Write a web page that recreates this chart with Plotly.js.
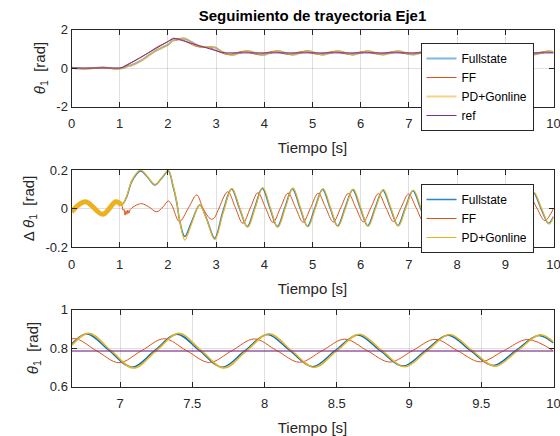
<!DOCTYPE html>
<html>
<head>
<meta charset="utf-8">
<script src="https://cdn.plot.ly/plotly-3.0.1.min.js"></script>
<style>html,body{margin:0;padding:0;background:#fff;}#chart{width:560px;height:436px;}</style>
</head>
<body>
<div id="chart"></div>
<script>
// ---------------- DATA ----------------
// Reference trajectory theta_1 [rad]
const tRef = [0, 1.0, 1.1, 2.05, 2.12, 2.2, 3.1, 3.2, 10];
const vRef = [0, 0, 0.07, 1.47, 1.55, 1.5, 0.82, 0.785, 0.785];

// Fullstate theta_1
const tFs = [0,0.29,0.65,0.92,1.04,1.145,1.25,1.43,1.57,1.73,1.87,2.01,2.1,2.18,2.25,2.35,2.49,2.66,2.8,2.97,3.14,3.32,3.48,3.645,3.80,3.958,4.114,4.27,4.426,4.583,4.739,4.895,5.051,5.208,5.364,5.52,5.676,5.833,5.989,6.145,6.301,6.458,6.614,6.77,6.926,7.083,7.239,7.395,7.551,7.708,7.864,8.02,8.176,8.333,8.489,8.645,8.801,8.958,9.114,9.27,9.426,9.583,9.739,9.895,10];
const vFs = [0.017,-0.035,0.03,-0.035,-0.018,0.08,0.155,0.365,0.605,0.88,1.05,1.225,1.43,1.46,1.51,1.52,1.34,1.12,1.09,1.07,0.81,0.685,0.786,0.878,0.786,0.685,0.786,0.878,0.786,0.688,0.786,0.877,0.786,0.690,0.786,0.876,0.786,0.693,0.786,0.875,0.786,0.697,0.786,0.873,0.786,0.700,0.786,0.872,0.786,0.700,0.786,0.870,0.786,0.703,0.786,0.868,0.786,0.706,0.786,0.866,0.786,0.709,0.786,0.865,0.826];

// FF theta_1
const tFf = [0,0.29,0.65,0.92,1.04,1.1,1.35,1.46,1.6,1.77,1.9,2.01,2.08,2.24,2.42,2.6,2.73,2.89,3.04,3.243,3.399,3.555,3.711,3.868,4.024,4.18,4.336,4.493,4.649,4.805,4.961,5.118,5.274,5.43,5.586,5.743,5.899,6.055,6.211,6.368,6.524,6.68,6.836,6.993,7.149,7.305,7.461,7.618,7.774,7.93,8.086,8.243,8.399,8.555,8.711,8.868,9.024,9.18,9.336,9.493,9.656,9.82,10];
const vFf = [0.017,-0.035,0.03,-0.035,0.0,0.104,0.425,0.58,0.80,1.08,1.245,1.38,1.50,1.52,1.32,1.115,1.09,1.03,0.865,0.698,0.78,0.862,0.783,0.705,0.783,0.86,0.784,0.71,0.784,0.857,0.785,0.714,0.785,0.855,0.785,0.718,0.785,0.852,0.785,0.721,0.785,0.849,0.786,0.724,0.786,0.848,0.786,0.725,0.786,0.847,0.786,0.726,0.786,0.846,0.786,0.727,0.786,0.845,0.786,0.728,0.786,0.844,0.785];

// PD+Gonline theta_1
const tPd = [0,0.29,0.65,0.92,1.04,1.145,1.25,1.43,1.57,1.73,1.87,2.01,2.1,2.18,2.25,2.35,2.49,2.66,2.8,2.97,3.15,3.33,3.49,3.657,3.812,3.97,4.126,4.282,4.438,4.595,4.751,4.907,5.063,5.22,5.376,5.532,5.688,5.845,6.001,6.157,6.313,6.47,6.626,6.782,6.938,7.095,7.251,7.407,7.563,7.72,7.876,8.032,8.188,8.345,8.501,8.657,8.813,8.97,9.126,9.282,9.438,9.595,9.751,9.907,10];
const vPd = [0.017,-0.035,0.03,-0.035,-0.018,0.07,0.14,0.35,0.59,0.865,1.04,1.215,1.42,1.46,1.52,1.54,1.35,1.12,1.09,1.08,0.81,0.681,0.786,0.882,0.786,0.681,0.786,0.882,0.786,0.684,0.786,0.881,0.786,0.686,0.786,0.880,0.786,0.689,0.786,0.879,0.786,0.693,0.786,0.877,0.786,0.696,0.786,0.876,0.786,0.696,0.786,0.874,0.786,0.699,0.786,0.872,0.786,0.702,0.786,0.870,0.786,0.705,0.786,0.869,0.832];

// Tracking error  Δθ_1 [rad]
const dFs = [-0.017,0.035,-0.03,0.035,0.018,0.06,0.14,0.195,0.165,0.122,0.157,0.195,0.122,0.035,-0.07,-0.146,-0.07,0.018,-0.051,-0.155,-0.017,0.101,0.004,-0.094,0.004,0.105,0.004,-0.094,0.004,0.103,0.004,-0.092,0.004,0.100,0.004,-0.090,0.004,0.098,0.004,-0.089,0.004,0.095,0.004,-0.088,0.004,0.092,0.003,-0.087,0.003,0.090,0.003,-0.085,0.003,0.087,0.002,-0.083,0.002,0.084,0.002,-0.080,0.001,0.080,0.001,-0.077,-0.042];
const dPd = [-0.017,0.035,-0.03,0.035,0.018,0.065,0.145,0.2,0.168,0.125,0.16,0.198,0.13,0.04,-0.07,-0.164,-0.08,0.018,-0.055,-0.162,-0.02,0.105,0.004,-0.098,0.004,0.109,0.004,-0.098,0.004,0.107,0.004,-0.096,0.004,0.104,0.004,-0.094,0.004,0.102,0.004,-0.093,0.004,0.099,0.004,-0.092,0.004,0.096,0.003,-0.091,0.003,0.094,0.003,-0.089,0.003,0.091,0.002,-0.087,0.002,0.088,0.002,-0.084,0.001,0.084,0.001,-0.081,-0.045];
const tDff = [0,0.29,0.65,0.92,1.04,1.07,1.09,1.11,1.13,1.15,1.17,1.19,1.22,1.35,1.46,1.6,1.77,1.9,2.01,2.08,2.24,2.42,2.6,2.73,2.89,2.96,3.04,3.243,3.399,3.555,3.711,3.868,4.024,4.18,4.336,4.493,4.649,4.805,4.961,5.118,5.274,5.43,5.586,5.743,5.899,6.055,6.211,6.368,6.524,6.68,6.836,6.993,7.149,7.305,7.461,7.618,7.774,7.93,8.086,8.243,8.399,8.555,8.711,8.868,9.024,9.18,9.336,9.493,9.656,9.82,10];
const dFf = [-0.017,0.035,-0.03,0.035,0.018,-0.01,-0.005,-0.035,-0.012,-0.03,-0.008,-0.025,-0.005,0.018,0.025,0.009,-0.017,0.009,0.039,0.018,-0.068,0.0,0.07,0.0,-0.055,-0.05,-0.01,0.087,0.005,-0.077,0.003,0.082,0.004,-0.072,0.004,0.08,0.004,-0.071,0.004,0.079,0.004,-0.07,0.004,0.078,0.004,-0.069,0.004,0.077,0.004,-0.068,0.004,0.075,0.004,-0.067,0.003,0.074,0.003,-0.066,0.003,0.072,0.003,-0.065,0.003,0.07,0.003,-0.064,0.002,0.068,0.002,-0.063,0.0];

// Tick labels
const xTickVals = [0,1,2,3,4,5,6,7,8,9,10];
const xTickText = ['0','1','2','3','4','5','6','7','8','9','10'];
const xZoomVals = [7,7.5,8,8.5,9,9.5,10];
const xZoomText = ['7','7.5','8','8.5','9','9.5','10'];
const y1Vals = [-2,0,2];   const y1Text = ['-2','0','2'];
const y2Vals = [-0.2,0,0.2]; const y2Text = ['-0.2','0','0.2'];
const y3Vals = [0.6,0.8,1]; const y3Text = ['0.6','0.8','1'];

const names = ['Fullstate','FF','PD+Gonline','ref'];
const xLabel = 'Tiempo [s]';
const yLabels = ['<i>θ</i><sub>1</sub>  [rad]', 'Δ <i>θ</i><sub>1</sub>  [rad]', '<i>θ</i><sub>1</sub>  [rad]'];
const titleText = '<b>Seguimiento de trayectoria Eje1</b>';

// ---------------- STYLE ----------------
const W = 560, H = 436;
const FONT = 'Liberation Sans, Arial, Helvetica, sans-serif';
const C = {blue:'#0072BD', orange:'#D95319', yellow:'#EDB120', purple:'#7E2F8E', ax:'#262626'};
const xd = [71.5/W, 553.5/W];
function yd(top, bot){ return [1-bot/H, 1-top/H]; }
const labFont = {family:FONT, size:15, color:C.ax};

function axis(extra){
  return Object.assign({
    showline:true, linecolor:C.ax, linewidth:1, mirror:'ticks',
    ticks:'inside', ticklen:5, tickwidth:1, tickcolor:C.ax,
    showgrid:true, gridcolor:'rgba(38,38,38,0.15)', gridwidth:1,
    zeroline:false, automargin:false, tickmode:'array',
    tickfont:{family:FONT, size:13, color:C.ax}
  }, extra);
}
function xax(extra){
  return axis(Object.assign({ticklabeloverflow:'allow', ticklabelstandoff:5,
    title:{text:xLabel, font:labFont, standoff:12}}, extra));
}
function yax(label, extra){
  return axis(Object.assign({title:{text:label, font:labFont, standoff:7}}, extra));
}

const bandIdx = tPd.map((t,i)=>i).filter(i=>tPd[i] <= 1.04);

const traces = [
  // top
  {x:tFs, y:vFs, xaxis:'x', yaxis:'y', name:names[0], mode:'lines', line:{color:'rgba(0,114,189,0.5)', width:2, shape:'spline'}, legend:'legend'},
  {x:tFf, y:vFf, xaxis:'x', yaxis:'y', name:names[1], mode:'lines', line:{color:C.orange, width:1, shape:'spline'}, legend:'legend'},
  {x:tPd, y:vPd, xaxis:'x', yaxis:'y', name:names[2], mode:'lines', line:{color:'rgba(237,177,32,0.55)', width:2, shape:'spline'}, legend:'legend'},
  {x:tRef, y:vRef, xaxis:'x', yaxis:'y', name:names[3], mode:'lines', line:{color:C.purple, width:1}, legend:'legend'},
  // middle
  {x:tFs, y:dFs, xaxis:'x2', yaxis:'y2', name:names[0], mode:'lines', line:{color:'rgba(0,114,189,0.85)', width:1.5, shape:'spline'}, legend:'legend2'},
  {x:tDff, y:dFf, xaxis:'x2', yaxis:'y2', name:names[1], mode:'lines', line:{color:C.orange, width:1, shape:'spline'}, legend:'legend2'},
  {x:tPd, y:dPd, xaxis:'x2', yaxis:'y2', name:names[2], mode:'lines', line:{color:C.yellow, width:1.2, shape:'spline'}, legend:'legend2'},
  {x:bandIdx.map(i=>tPd[i]), y:bandIdx.map(i=>dPd[i]), xaxis:'x2', yaxis:'y2', mode:'lines', showlegend:false, line:{color:C.yellow, width:5, shape:'spline'}},
  // bottom (zoom)
  {x:tFs, y:vFs, xaxis:'x3', yaxis:'y3', mode:'lines', showlegend:false, line:{color:C.blue, width:1.5, shape:'spline'}},
  {x:tFf, y:vFf, xaxis:'x3', yaxis:'y3', mode:'lines', showlegend:false, line:{color:C.orange, width:1, shape:'spline'}},
  {x:tPd, y:vPd, xaxis:'x3', yaxis:'y3', mode:'lines', showlegend:false, line:{color:C.yellow, width:1.5, shape:'spline'}},
  {x:tRef, y:vRef, xaxis:'x3', yaxis:'y3', mode:'lines', showlegend:false, line:{color:'rgba(126,47,142,0.6)', width:2}}
];

const legendStyle = {xanchor:'left', yanchor:'top', bgcolor:'#ffffff', bordercolor:C.ax, borderwidth:1,
  font:{family:FONT, size:12, color:'#000'}, traceorder:'normal', tracegroupgap:0};

const layout = {
  width:W, height:H, margin:{l:0,r:0,t:0,b:0}, paper_bgcolor:'#fff', plot_bgcolor:'#fff',
  font:{family:FONT, color:C.ax},
  title:{text:titleText, x:312.5/W, xanchor:'center', xref:'paper', y:1-16/H, yref:'paper', yanchor:'middle', font:{family:FONT, size:15, color:'#000'}},
  xaxis: xax({domain:xd, anchor:'y', range:[0,10], tickvals:xTickVals, ticktext:xTickText}),
  yaxis: yax(yLabels[0], {domain:yd(29.5,106.5), anchor:'x', range:[-2,2], tickvals:y1Vals, ticktext:y1Text}),
  xaxis2: xax({domain:xd, anchor:'y2', range:[0,10], tickvals:xTickVals, ticktext:xTickText}),
  yaxis2: yax(yLabels[1], {domain:yd(170,247), anchor:'x2', range:[-0.2,0.2], tickvals:y2Vals, ticktext:y2Text}),
  xaxis3: xax({domain:xd, anchor:'y3', range:[6.664,10], tickvals:xZoomVals, ticktext:xZoomText}),
  yaxis3: yax(yLabels[2], {domain:yd(309.5,386.5), anchor:'x3', range:[0.6,1], tickvals:y3Vals, ticktext:y3Text}),
  legend: Object.assign({x:420.5/W, y:1-43/H}, legendStyle),
  legend2: Object.assign({x:420.5/W, y:1-184/H}, legendStyle),
  showlegend:true
};

Plotly.newPlot('chart', traces, layout, {displayModeBar:false, staticPlot:true});
</script>
</body>
</html>
